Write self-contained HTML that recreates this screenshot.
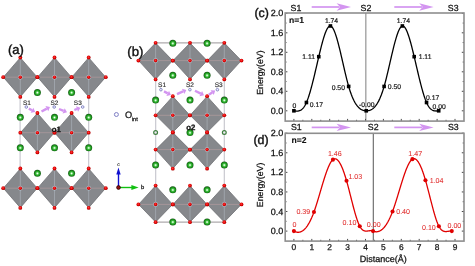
<!DOCTYPE html><html><head><meta charset="utf-8"><style>html,body{margin:0;padding:0;background:#fff;}svg{display:block;will-change:transform;} text{font-family:"Liberation Sans",sans-serif;-webkit-font-smoothing:antialiased;text-rendering:geometricPrecision;}</style></head><body>
<svg width="475" height="266" viewBox="0 0 475 266">
<defs><radialGradient id="gg" cx="0.5" cy="0.53" r="0.52"><stop offset="0" stop-color="#ffffff"/><stop offset="0.18" stop-color="#b4f0b4"/><stop offset="0.42" stop-color="#3cbc3c"/><stop offset="0.75" stop-color="#178a17"/><stop offset="1" stop-color="#1c561c"/></radialGradient><radialGradient id="gr" cx="0.45" cy="0.42" r="0.6"><stop offset="0" stop-color="#ff4040"/><stop offset="0.6" stop-color="#e00000"/><stop offset="1" stop-color="#a80000"/></radialGradient></defs>
<rect width="475" height="266" fill="#fff"/>
<line x1="20.1" y1="96.9" x2="20.1" y2="168.5" stroke="#c4c4cc" stroke-width="1.1"/>
<line x1="88.7" y1="96.9" x2="88.7" y2="168.5" stroke="#c4c4cc" stroke-width="1.1"/>
<polygon points="20.30,57.70 37.20,77.20 20.30,96.70 3.40,77.20" fill="#86888c" stroke="#6e7074" stroke-width="0.8" stroke-linejoin="round"/>
<line x1="20.30" y1="57.50" x2="20.30" y2="96.90" stroke="#a6acb4" stroke-width="0.75"/>
<line x1="3.20" y1="77.20" x2="37.40" y2="77.20" stroke="#ae9a9c" stroke-width="0.75"/>
<polygon points="54.50,57.70 71.40,77.20 54.50,96.70 37.60,77.20" fill="#86888c" stroke="#6e7074" stroke-width="0.8" stroke-linejoin="round"/>
<line x1="54.50" y1="57.50" x2="54.50" y2="96.90" stroke="#a6acb4" stroke-width="0.75"/>
<line x1="37.40" y1="77.20" x2="71.60" y2="77.20" stroke="#ae9a9c" stroke-width="0.75"/>
<polygon points="88.70,57.70 105.60,77.20 88.70,96.70 71.80,77.20" fill="#86888c" stroke="#6e7074" stroke-width="0.8" stroke-linejoin="round"/>
<line x1="88.70" y1="57.50" x2="88.70" y2="96.90" stroke="#a6acb4" stroke-width="0.75"/>
<line x1="71.60" y1="77.20" x2="105.80" y2="77.20" stroke="#ae9a9c" stroke-width="0.75"/>
<polygon points="37.40,113.20 54.30,132.70 37.40,152.20 20.50,132.70" fill="#86888c" stroke="#6e7074" stroke-width="0.8" stroke-linejoin="round"/>
<line x1="37.40" y1="113.00" x2="37.40" y2="152.40" stroke="#a6acb4" stroke-width="0.75"/>
<line x1="20.30" y1="132.70" x2="54.50" y2="132.70" stroke="#ae9a9c" stroke-width="0.75"/>
<polygon points="71.60,113.20 88.50,132.70 71.60,152.20 54.70,132.70" fill="#86888c" stroke="#6e7074" stroke-width="0.8" stroke-linejoin="round"/>
<line x1="71.60" y1="113.00" x2="71.60" y2="152.40" stroke="#a6acb4" stroke-width="0.75"/>
<line x1="54.50" y1="132.70" x2="88.70" y2="132.70" stroke="#ae9a9c" stroke-width="0.75"/>
<polygon points="20.30,168.70 37.20,188.20 20.30,207.70 3.40,188.20" fill="#86888c" stroke="#6e7074" stroke-width="0.8" stroke-linejoin="round"/>
<line x1="20.30" y1="168.50" x2="20.30" y2="207.90" stroke="#a6acb4" stroke-width="0.75"/>
<line x1="3.20" y1="188.20" x2="37.40" y2="188.20" stroke="#ae9a9c" stroke-width="0.75"/>
<polygon points="54.50,168.70 71.40,188.20 54.50,207.70 37.60,188.20" fill="#86888c" stroke="#6e7074" stroke-width="0.8" stroke-linejoin="round"/>
<line x1="54.50" y1="168.50" x2="54.50" y2="207.90" stroke="#a6acb4" stroke-width="0.75"/>
<line x1="37.40" y1="188.20" x2="71.60" y2="188.20" stroke="#ae9a9c" stroke-width="0.75"/>
<polygon points="88.70,168.70 105.60,188.20 88.70,207.70 71.80,188.20" fill="#86888c" stroke="#6e7074" stroke-width="0.8" stroke-linejoin="round"/>
<line x1="88.70" y1="168.50" x2="88.70" y2="207.90" stroke="#a6acb4" stroke-width="0.75"/>
<line x1="71.60" y1="188.20" x2="105.80" y2="188.20" stroke="#ae9a9c" stroke-width="0.75"/>
<circle cx="20.30" cy="57.50" r="1.9" fill="url(#gr)"/>
<circle cx="20.30" cy="96.90" r="1.9" fill="url(#gr)"/>
<circle cx="3.20" cy="77.20" r="1.9" fill="url(#gr)"/>
<circle cx="37.40" cy="77.20" r="1.9" fill="url(#gr)"/>
<circle cx="20.30" cy="77.20" r="2.3" fill="#b4ccd8"/>
<circle cx="20.30" cy="77.20" r="1.8" fill="url(#gr)"/>
<circle cx="54.50" cy="57.50" r="1.9" fill="url(#gr)"/>
<circle cx="54.50" cy="96.90" r="1.9" fill="url(#gr)"/>
<circle cx="37.40" cy="77.20" r="1.9" fill="url(#gr)"/>
<circle cx="71.60" cy="77.20" r="1.9" fill="url(#gr)"/>
<circle cx="54.50" cy="77.20" r="2.3" fill="#b4ccd8"/>
<circle cx="54.50" cy="77.20" r="1.8" fill="url(#gr)"/>
<circle cx="88.70" cy="57.50" r="1.9" fill="url(#gr)"/>
<circle cx="88.70" cy="96.90" r="1.9" fill="url(#gr)"/>
<circle cx="71.60" cy="77.20" r="1.9" fill="url(#gr)"/>
<circle cx="105.80" cy="77.20" r="1.9" fill="url(#gr)"/>
<circle cx="88.70" cy="77.20" r="2.3" fill="#b4ccd8"/>
<circle cx="88.70" cy="77.20" r="1.8" fill="url(#gr)"/>
<circle cx="37.40" cy="113.00" r="1.9" fill="url(#gr)"/>
<circle cx="37.40" cy="152.40" r="1.9" fill="url(#gr)"/>
<circle cx="20.30" cy="132.70" r="1.9" fill="url(#gr)"/>
<circle cx="54.50" cy="132.70" r="1.9" fill="url(#gr)"/>
<circle cx="37.40" cy="132.70" r="2.3" fill="#b4ccd8"/>
<circle cx="37.40" cy="132.70" r="1.8" fill="url(#gr)"/>
<circle cx="71.60" cy="113.00" r="1.9" fill="url(#gr)"/>
<circle cx="71.60" cy="152.40" r="1.9" fill="url(#gr)"/>
<circle cx="54.50" cy="132.70" r="1.9" fill="url(#gr)"/>
<circle cx="88.70" cy="132.70" r="1.9" fill="url(#gr)"/>
<circle cx="71.60" cy="132.70" r="2.3" fill="#b4ccd8"/>
<circle cx="71.60" cy="132.70" r="1.8" fill="url(#gr)"/>
<circle cx="20.30" cy="168.50" r="1.9" fill="url(#gr)"/>
<circle cx="20.30" cy="207.90" r="1.9" fill="url(#gr)"/>
<circle cx="3.20" cy="188.20" r="1.9" fill="url(#gr)"/>
<circle cx="37.40" cy="188.20" r="1.9" fill="url(#gr)"/>
<circle cx="20.30" cy="188.20" r="2.3" fill="#b4ccd8"/>
<circle cx="20.30" cy="188.20" r="1.8" fill="url(#gr)"/>
<circle cx="54.50" cy="168.50" r="1.9" fill="url(#gr)"/>
<circle cx="54.50" cy="207.90" r="1.9" fill="url(#gr)"/>
<circle cx="37.40" cy="188.20" r="1.9" fill="url(#gr)"/>
<circle cx="71.60" cy="188.20" r="1.9" fill="url(#gr)"/>
<circle cx="54.50" cy="188.20" r="2.3" fill="#b4ccd8"/>
<circle cx="54.50" cy="188.20" r="1.8" fill="url(#gr)"/>
<circle cx="88.70" cy="168.50" r="1.9" fill="url(#gr)"/>
<circle cx="88.70" cy="207.90" r="1.9" fill="url(#gr)"/>
<circle cx="71.60" cy="188.20" r="1.9" fill="url(#gr)"/>
<circle cx="105.80" cy="188.20" r="1.9" fill="url(#gr)"/>
<circle cx="88.70" cy="188.20" r="2.3" fill="#b4ccd8"/>
<circle cx="88.70" cy="188.20" r="1.8" fill="url(#gr)"/>
<circle cx="37.40" cy="92.40" r="3.5" fill="url(#gg)"/>
<circle cx="71.60" cy="92.40" r="3.5" fill="url(#gg)"/>
<circle cx="20.30" cy="117.30" r="3.5" fill="url(#gg)"/>
<circle cx="54.50" cy="117.30" r="3.5" fill="url(#gg)"/>
<circle cx="88.70" cy="117.30" r="3.5" fill="url(#gg)"/>
<circle cx="20.30" cy="147.70" r="3.5" fill="url(#gg)"/>
<circle cx="54.50" cy="147.70" r="3.5" fill="url(#gg)"/>
<circle cx="88.70" cy="147.70" r="3.5" fill="url(#gg)"/>
<circle cx="37.40" cy="173.20" r="3.5" fill="url(#gg)"/>
<circle cx="71.60" cy="173.20" r="3.5" fill="url(#gg)"/>
<circle cx="26.30" cy="107.00" r="1.3" fill="#f0f0ff" stroke="#7e80c0" stroke-width="0.9"/>
<text x="22.90" y="104.90" font-size="6.5" fill="#2a2a2a" stroke="#2a2a2a" stroke-width="0.12" font-weight="normal" text-anchor="start" >S1</text>
<circle cx="54.20" cy="107.00" r="1.3" fill="#f0f0ff" stroke="#7e80c0" stroke-width="0.9"/>
<text x="50.50" y="104.90" font-size="6.5" fill="#2a2a2a" stroke="#2a2a2a" stroke-width="0.12" font-weight="normal" text-anchor="start" >S2</text>
<circle cx="82.70" cy="107.00" r="1.3" fill="#f0f0ff" stroke="#7e80c0" stroke-width="0.9"/>
<text x="73.80" y="104.90" font-size="6.5" fill="#2a2a2a" stroke="#2a2a2a" stroke-width="0.12" font-weight="normal" text-anchor="start" >S3</text>
<line x1="28.80" y1="108.60" x2="32.00" y2="110.25" stroke="#d394f0" stroke-width="2.4"/>
<polygon points="35.20,111.90 30.67,112.83 33.33,107.67" fill="#d394f0"/>
<line x1="41.50" y1="111.50" x2="46.83" y2="108.61" stroke="#d394f0" stroke-width="2.4"/>
<polygon points="50.00,106.90 48.21,111.16 45.45,106.06" fill="#d394f0"/>
<line x1="59.00" y1="109.00" x2="63.66" y2="110.86" stroke="#d394f0" stroke-width="2.4"/>
<polygon points="67.00,112.20 62.58,113.56 64.73,108.17" fill="#d394f0"/>
<line x1="74.30" y1="110.00" x2="77.03" y2="108.97" stroke="#d394f0" stroke-width="2.4"/>
<polygon points="80.40,107.70 78.05,111.68 76.01,106.26" fill="#d394f0"/>
<text x="51.80" y="131.90" font-size="7.8" fill="#111" stroke="#111" stroke-width="0.25" font-weight="bold" text-anchor="start" >o1</text>
<text x="8.00" y="53.80" font-size="13.0" fill="#111" stroke="#111" stroke-width="0.4" font-weight="normal" text-anchor="start" >(a)</text>
<line x1="155.7" y1="42.9" x2="155.7" y2="222.2" stroke="#c4c4cc" stroke-width="1.1"/>
<line x1="224.3" y1="42.9" x2="224.3" y2="222.2" stroke="#c4c4cc" stroke-width="1.1"/>
<line x1="155.6" y1="42.9" x2="224.3" y2="42.9" stroke="#aeaaac" stroke-width="1.1"/>
<line x1="155.6" y1="222.1" x2="224.3" y2="222.1" stroke="#aeaaac" stroke-width="1.1"/>
<polygon points="155.60,43.00 172.60,60.60 155.60,79.20 138.60,60.60" fill="#86888c" stroke="#6e7074" stroke-width="0.8" stroke-linejoin="round"/>
<line x1="155.60" y1="42.80" x2="155.60" y2="79.40" stroke="#a6acb4" stroke-width="0.75"/>
<line x1="138.40" y1="60.60" x2="172.80" y2="60.60" stroke="#ae9a9c" stroke-width="0.75"/>
<polygon points="190.00,43.00 207.00,60.60 190.00,79.20 173.00,60.60" fill="#86888c" stroke="#6e7074" stroke-width="0.8" stroke-linejoin="round"/>
<line x1="190.00" y1="42.80" x2="190.00" y2="79.40" stroke="#a6acb4" stroke-width="0.75"/>
<line x1="172.80" y1="60.60" x2="207.20" y2="60.60" stroke="#ae9a9c" stroke-width="0.75"/>
<polygon points="224.30,43.00 241.30,60.60 224.30,79.20 207.30,60.60" fill="#86888c" stroke="#6e7074" stroke-width="0.8" stroke-linejoin="round"/>
<line x1="224.30" y1="42.80" x2="224.30" y2="79.40" stroke="#a6acb4" stroke-width="0.75"/>
<line x1="207.10" y1="60.60" x2="241.50" y2="60.60" stroke="#ae9a9c" stroke-width="0.75"/>
<polygon points="172.80,96.40 189.80,115.30 172.80,132.20 155.80,115.30" fill="#86888c" stroke="#6e7074" stroke-width="0.8" stroke-linejoin="round"/>
<line x1="172.80" y1="96.20" x2="172.80" y2="132.40" stroke="#a6acb4" stroke-width="0.75"/>
<line x1="155.60" y1="115.30" x2="190.00" y2="115.30" stroke="#ae9a9c" stroke-width="0.75"/>
<polygon points="207.10,96.40 224.10,115.30 207.10,132.20 190.10,115.30" fill="#86888c" stroke="#6e7074" stroke-width="0.8" stroke-linejoin="round"/>
<line x1="207.10" y1="96.20" x2="207.10" y2="132.40" stroke="#a6acb4" stroke-width="0.75"/>
<line x1="189.90" y1="115.30" x2="224.30" y2="115.30" stroke="#ae9a9c" stroke-width="0.75"/>
<polygon points="172.80,132.60 189.80,149.60 172.80,168.50 155.80,149.60" fill="#86888c" stroke="#6e7074" stroke-width="0.8" stroke-linejoin="round"/>
<line x1="172.80" y1="132.40" x2="172.80" y2="168.70" stroke="#a6acb4" stroke-width="0.75"/>
<line x1="155.60" y1="149.60" x2="190.00" y2="149.60" stroke="#ae9a9c" stroke-width="0.75"/>
<polygon points="207.10,132.60 224.10,149.60 207.10,168.50 190.10,149.60" fill="#86888c" stroke="#6e7074" stroke-width="0.8" stroke-linejoin="round"/>
<line x1="207.10" y1="132.40" x2="207.10" y2="168.70" stroke="#a6acb4" stroke-width="0.75"/>
<line x1="189.90" y1="149.60" x2="224.30" y2="149.60" stroke="#ae9a9c" stroke-width="0.75"/>
<polygon points="155.60,185.80 172.60,204.40 155.60,222.00 138.60,204.40" fill="#86888c" stroke="#6e7074" stroke-width="0.8" stroke-linejoin="round"/>
<line x1="155.60" y1="185.60" x2="155.60" y2="222.20" stroke="#a6acb4" stroke-width="0.75"/>
<line x1="138.40" y1="204.40" x2="172.80" y2="204.40" stroke="#ae9a9c" stroke-width="0.75"/>
<polygon points="190.00,185.80 207.00,204.40 190.00,222.00 173.00,204.40" fill="#86888c" stroke="#6e7074" stroke-width="0.8" stroke-linejoin="round"/>
<line x1="190.00" y1="185.60" x2="190.00" y2="222.20" stroke="#a6acb4" stroke-width="0.75"/>
<line x1="172.80" y1="204.40" x2="207.20" y2="204.40" stroke="#ae9a9c" stroke-width="0.75"/>
<polygon points="224.30,185.80 241.30,204.40 224.30,222.00 207.30,204.40" fill="#86888c" stroke="#6e7074" stroke-width="0.8" stroke-linejoin="round"/>
<line x1="224.30" y1="185.60" x2="224.30" y2="222.20" stroke="#a6acb4" stroke-width="0.75"/>
<line x1="207.10" y1="204.40" x2="241.50" y2="204.40" stroke="#ae9a9c" stroke-width="0.75"/>
<circle cx="155.60" cy="42.80" r="1.9" fill="url(#gr)"/>
<circle cx="155.60" cy="79.40" r="1.9" fill="url(#gr)"/>
<circle cx="138.40" cy="60.60" r="1.9" fill="url(#gr)"/>
<circle cx="172.80" cy="60.60" r="1.9" fill="url(#gr)"/>
<circle cx="155.60" cy="60.60" r="2.3" fill="#b4ccd8"/>
<circle cx="155.60" cy="60.60" r="1.8" fill="url(#gr)"/>
<circle cx="190.00" cy="42.80" r="1.9" fill="url(#gr)"/>
<circle cx="190.00" cy="79.40" r="1.9" fill="url(#gr)"/>
<circle cx="172.80" cy="60.60" r="1.9" fill="url(#gr)"/>
<circle cx="207.20" cy="60.60" r="1.9" fill="url(#gr)"/>
<circle cx="190.00" cy="60.60" r="2.3" fill="#b4ccd8"/>
<circle cx="190.00" cy="60.60" r="1.8" fill="url(#gr)"/>
<circle cx="224.30" cy="42.80" r="1.9" fill="url(#gr)"/>
<circle cx="224.30" cy="79.40" r="1.9" fill="url(#gr)"/>
<circle cx="207.10" cy="60.60" r="1.9" fill="url(#gr)"/>
<circle cx="241.50" cy="60.60" r="1.9" fill="url(#gr)"/>
<circle cx="224.30" cy="60.60" r="2.3" fill="#b4ccd8"/>
<circle cx="224.30" cy="60.60" r="1.8" fill="url(#gr)"/>
<circle cx="172.80" cy="96.20" r="1.9" fill="url(#gr)"/>
<circle cx="172.80" cy="132.40" r="1.9" fill="url(#gr)"/>
<circle cx="155.60" cy="115.30" r="1.9" fill="url(#gr)"/>
<circle cx="190.00" cy="115.30" r="1.9" fill="url(#gr)"/>
<circle cx="172.80" cy="115.30" r="2.3" fill="#b4ccd8"/>
<circle cx="172.80" cy="115.30" r="1.8" fill="url(#gr)"/>
<circle cx="207.10" cy="96.20" r="1.9" fill="url(#gr)"/>
<circle cx="207.10" cy="132.40" r="1.9" fill="url(#gr)"/>
<circle cx="189.90" cy="115.30" r="1.9" fill="url(#gr)"/>
<circle cx="224.30" cy="115.30" r="1.9" fill="url(#gr)"/>
<circle cx="207.10" cy="115.30" r="2.3" fill="#b4ccd8"/>
<circle cx="207.10" cy="115.30" r="1.8" fill="url(#gr)"/>
<circle cx="172.80" cy="132.40" r="1.9" fill="url(#gr)"/>
<circle cx="172.80" cy="168.70" r="1.9" fill="url(#gr)"/>
<circle cx="155.60" cy="149.60" r="1.9" fill="url(#gr)"/>
<circle cx="190.00" cy="149.60" r="1.9" fill="url(#gr)"/>
<circle cx="172.80" cy="149.60" r="2.3" fill="#b4ccd8"/>
<circle cx="172.80" cy="149.60" r="1.8" fill="url(#gr)"/>
<circle cx="207.10" cy="132.40" r="1.9" fill="url(#gr)"/>
<circle cx="207.10" cy="168.70" r="1.9" fill="url(#gr)"/>
<circle cx="189.90" cy="149.60" r="1.9" fill="url(#gr)"/>
<circle cx="224.30" cy="149.60" r="1.9" fill="url(#gr)"/>
<circle cx="207.10" cy="149.60" r="2.3" fill="#b4ccd8"/>
<circle cx="207.10" cy="149.60" r="1.8" fill="url(#gr)"/>
<circle cx="155.60" cy="185.60" r="1.9" fill="url(#gr)"/>
<circle cx="155.60" cy="222.20" r="1.9" fill="url(#gr)"/>
<circle cx="138.40" cy="204.40" r="1.9" fill="url(#gr)"/>
<circle cx="172.80" cy="204.40" r="1.9" fill="url(#gr)"/>
<circle cx="155.60" cy="204.40" r="2.3" fill="#b4ccd8"/>
<circle cx="155.60" cy="204.40" r="1.8" fill="url(#gr)"/>
<circle cx="190.00" cy="185.60" r="1.9" fill="url(#gr)"/>
<circle cx="190.00" cy="222.20" r="1.9" fill="url(#gr)"/>
<circle cx="172.80" cy="204.40" r="1.9" fill="url(#gr)"/>
<circle cx="207.20" cy="204.40" r="1.9" fill="url(#gr)"/>
<circle cx="190.00" cy="204.40" r="2.3" fill="#b4ccd8"/>
<circle cx="190.00" cy="204.40" r="1.8" fill="url(#gr)"/>
<circle cx="224.30" cy="185.60" r="1.9" fill="url(#gr)"/>
<circle cx="224.30" cy="222.20" r="1.9" fill="url(#gr)"/>
<circle cx="207.10" cy="204.40" r="1.9" fill="url(#gr)"/>
<circle cx="241.50" cy="204.40" r="1.9" fill="url(#gr)"/>
<circle cx="224.30" cy="204.40" r="2.3" fill="#b4ccd8"/>
<circle cx="224.30" cy="204.40" r="1.8" fill="url(#gr)"/>
<circle cx="172.80" cy="43.20" r="3.5" fill="url(#gg)"/>
<circle cx="207.10" cy="43.20" r="3.5" fill="url(#gg)"/>
<circle cx="172.80" cy="75.20" r="3.5" fill="url(#gg)"/>
<circle cx="207.10" cy="75.20" r="3.5" fill="url(#gg)"/>
<circle cx="155.60" cy="100.10" r="3.5" fill="url(#gg)"/>
<circle cx="190.00" cy="100.10" r="3.5" fill="url(#gg)"/>
<circle cx="224.30" cy="100.10" r="3.5" fill="url(#gg)"/>
<circle cx="155.60" cy="132.50" r="1.9" fill="#eeeaf4" stroke="#3f7f3f" stroke-width="1.2"/>
<circle cx="190.00" cy="132.50" r="3.5" fill="url(#gg)"/>
<circle cx="224.30" cy="132.50" r="1.9" fill="#eeeaf4" stroke="#3f7f3f" stroke-width="1.2"/>
<circle cx="155.60" cy="164.90" r="3.5" fill="url(#gg)"/>
<circle cx="190.00" cy="164.90" r="3.5" fill="url(#gg)"/>
<circle cx="224.30" cy="164.90" r="3.5" fill="url(#gg)"/>
<circle cx="172.80" cy="189.80" r="3.5" fill="url(#gg)"/>
<circle cx="207.10" cy="189.80" r="3.5" fill="url(#gg)"/>
<circle cx="172.80" cy="221.90" r="3.5" fill="url(#gg)"/>
<circle cx="207.10" cy="221.90" r="3.5" fill="url(#gg)"/>
<circle cx="160.90" cy="89.70" r="1.3" fill="#f0f0ff" stroke="#7e80c0" stroke-width="0.9"/>
<text x="158.00" y="87.30" font-size="6.6" fill="#333" stroke="#333" stroke-width="0.15" font-weight="normal" text-anchor="start" >S1</text>
<circle cx="189.90" cy="89.70" r="1.3" fill="#f0f0ff" stroke="#7e80c0" stroke-width="0.9"/>
<text x="185.90" y="87.30" font-size="6.6" fill="#333" stroke="#333" stroke-width="0.15" font-weight="normal" text-anchor="start" >S2</text>
<circle cx="217.40" cy="89.70" r="1.3" fill="#f0f0ff" stroke="#7e80c0" stroke-width="0.9"/>
<text x="214.70" y="87.30" font-size="6.6" fill="#333" stroke="#333" stroke-width="0.15" font-weight="normal" text-anchor="start" >S3</text>
<line x1="164.00" y1="91.40" x2="167.71" y2="93.33" stroke="#d394f0" stroke-width="2.4"/>
<polygon points="170.90,95.00 166.37,95.91 169.05,90.76" fill="#d394f0"/>
<line x1="177.00" y1="94.20" x2="183.13" y2="91.40" stroke="#d394f0" stroke-width="2.4"/>
<polygon points="186.40,89.90 184.33,94.03 181.92,88.76" fill="#d394f0"/>
<line x1="195.00" y1="90.80" x2="200.78" y2="93.69" stroke="#d394f0" stroke-width="2.4"/>
<polygon points="204.00,95.30 199.48,96.28 202.08,91.10" fill="#d394f0"/>
<line x1="208.80" y1="94.80" x2="212.19" y2="92.58" stroke="#d394f0" stroke-width="2.4"/>
<polygon points="215.20,90.60 213.78,95.00 210.60,90.15" fill="#d394f0"/>
<text x="186.30" y="130.00" font-size="7.8" fill="#111" stroke="#111" stroke-width="0.25" font-weight="bold" text-anchor="start" >o2</text>
<text x="127.30" y="55.70" font-size="13.2" fill="#111" stroke="#111" stroke-width="0.4" font-weight="normal" text-anchor="start" >(b)</text>
<circle cx="116.4" cy="114.5" r="2.0" fill="#fafaff" stroke="#8080c4" stroke-width="1.0"/>
<text x="125.00" y="117.70" font-size="9.2" fill="#111" stroke="#111" stroke-width="0.25" font-weight="normal" text-anchor="start" >O</text>
<text x="131.80" y="121.30" font-size="5.6" fill="#111" stroke="#111" stroke-width="0.25" font-weight="normal" text-anchor="start" >int</text>
<line x1="118.5" y1="187.5" x2="118.5" y2="173.5" stroke="#1010d0" stroke-width="1.4"/>
<polygon points="118.5,167.4 116.3,174.6 120.7,174.6" fill="#1010d0"/>
<line x1="118.5" y1="187.5" x2="132.5" y2="187.5" stroke="#10c010" stroke-width="1.4"/>
<polygon points="138.6,187.5 131.4,185.0 131.4,190.0" fill="#10c010"/>
<circle cx="118.5" cy="187.5" r="1.9" fill="#901010" stroke="#200000" stroke-width="0.7"/>
<text x="117.20" y="165.50" font-size="5.0" fill="#222" stroke="#222" stroke-width="0.12" font-weight="normal" text-anchor="start" >c</text>
<text x="140.90" y="189.40" font-size="5.8" fill="#111" stroke="#111" stroke-width="0.25" font-weight="normal" text-anchor="start" >b</text>
<line x1="365.80" y1="13.00" x2="365.80" y2="121.10" stroke="#a4a4a4" stroke-width="1.4"/>
<path d="M285.20,110.80h2.2M464.00,110.80h-2.2M285.20,101.05h1.3M464.00,101.05h-1.3M285.20,91.30h2.2M464.00,91.30h-2.2M285.20,81.55h1.3M464.00,81.55h-1.3M285.20,71.80h2.2M464.00,71.80h-2.2M285.20,62.05h1.3M464.00,62.05h-1.3M285.20,52.30h2.2M464.00,52.30h-2.2M285.20,42.55h1.3M464.00,42.55h-1.3M285.20,32.80h2.2M464.00,32.80h-2.2M285.20,23.05h1.3M464.00,23.05h-1.3M285.20,13.30h2.2M464.00,13.30h-2.2M293.90,121.10v-2.2M302.85,121.10v-1.3M311.80,121.10v-2.2M320.75,121.10v-1.3M329.70,121.10v-2.2M338.65,121.10v-1.3M347.60,121.10v-2.2M356.55,121.10v-1.3M365.50,121.10v-2.2M374.45,121.10v-1.3M383.40,121.10v-2.2M392.35,121.10v-1.3M401.30,121.10v-2.2M410.25,121.10v-1.3M419.20,121.10v-2.2M428.15,121.10v-1.3M437.10,121.10v-2.2M446.05,121.10v-1.3M455.00,121.10v-2.2" stroke="#4a4a4a" stroke-width="1.0" fill="none"/>
<rect x="285.20" y="13.00" width="178.80" height="108.10" fill="none" stroke="#8e8e8e" stroke-width="1.6"/>
<text x="283.30" y="113.90" font-size="9.0" fill="#111" stroke="#111" stroke-width="0.25" font-weight="normal" text-anchor="end" >0.0</text>
<text x="283.30" y="94.40" font-size="9.0" fill="#111" stroke="#111" stroke-width="0.25" font-weight="normal" text-anchor="end" >0.4</text>
<text x="283.30" y="74.90" font-size="9.0" fill="#111" stroke="#111" stroke-width="0.25" font-weight="normal" text-anchor="end" >0.8</text>
<text x="283.30" y="55.40" font-size="9.0" fill="#111" stroke="#111" stroke-width="0.25" font-weight="normal" text-anchor="end" >1.2</text>
<text x="283.30" y="35.90" font-size="9.0" fill="#111" stroke="#111" stroke-width="0.25" font-weight="normal" text-anchor="end" >1.6</text>
<text x="283.30" y="16.40" font-size="9.0" fill="#111" stroke="#111" stroke-width="0.25" font-weight="normal" text-anchor="end" >2.0</text>
<path d="M293.90,110.80 L294.26,110.85 L294.63,110.90 L294.99,110.95 L295.35,110.99 L295.71,111.03 L296.08,111.06 L296.44,111.08 L296.80,111.09 L297.17,111.08 L297.53,111.07 L297.89,111.04 L298.26,110.99 L298.62,110.93 L298.98,110.85 L299.34,110.74 L299.71,110.62 L300.07,110.47 L300.43,110.30 L300.80,110.10 L301.16,109.87 L301.52,109.61 L301.88,109.33 L302.25,109.01 L302.61,108.65 L302.97,108.26 L303.34,107.84 L303.70,107.37 L304.06,106.87 L304.43,106.33 L304.79,105.74 L305.15,105.11 L305.51,104.43 L305.88,103.71 L306.24,102.94 L306.60,102.12 L306.97,101.24 L307.33,100.32 L307.69,99.36 L308.05,98.35 L308.42,97.30 L308.78,96.20 L309.14,95.07 L309.51,93.90 L309.87,92.69 L310.23,91.45 L310.60,90.18 L310.96,88.87 L311.32,87.54 L311.68,86.18 L312.05,84.80 L312.41,83.39 L312.77,81.96 L313.14,80.51 L313.50,79.04 L313.86,77.55 L314.22,76.05 L314.59,74.54 L314.95,73.02 L315.31,71.48 L315.68,69.94 L316.04,68.39 L316.40,66.84 L316.76,65.29 L317.13,63.73 L317.49,62.18 L317.85,60.63 L318.22,59.08 L318.58,57.54 L318.94,56.01 L319.31,54.48 L319.67,52.97 L320.03,51.48 L320.39,50.00 L320.76,48.54 L321.12,47.11 L321.48,45.70 L321.85,44.32 L322.21,42.97 L322.57,41.65 L322.93,40.36 L323.30,39.12 L323.66,37.91 L324.02,36.75 L324.39,35.63 L324.75,34.56 L325.11,33.54 L325.48,32.57 L325.84,31.66 L326.20,30.81 L326.56,30.02 L326.93,29.29 L327.29,28.62 L327.65,28.03 L328.02,27.50 L328.38,27.05 L328.74,26.67 L329.10,26.37 L329.47,26.15 L329.83,26.01 L330.19,25.96 L330.56,26.00 L330.92,26.13 L331.28,26.34 L331.65,26.63 L332.01,27.01 L332.37,27.46 L332.73,27.99 L333.10,28.60 L333.46,29.27 L333.82,30.01 L334.19,30.82 L334.55,31.69 L334.91,32.61 L335.27,33.60 L335.64,34.64 L336.00,35.73 L336.36,36.87 L336.73,38.06 L337.09,39.30 L337.45,40.57 L337.82,41.89 L338.18,43.24 L338.54,44.62 L338.90,46.04 L339.27,47.48 L339.63,48.95 L339.99,50.44 L340.36,51.96 L340.72,53.49 L341.08,55.04 L341.44,56.60 L341.81,58.17 L342.17,59.75 L342.53,61.34 L342.90,62.92 L343.26,64.51 L343.62,66.09 L343.99,67.67 L344.35,69.24 L344.71,70.80 L345.07,72.35 L345.44,73.88 L345.80,75.39 L346.16,76.89 L346.53,78.36 L346.89,79.80 L347.25,81.21 L347.61,82.59 L347.98,83.94 L348.34,85.25 L348.70,86.53 L349.07,87.76 L349.43,88.95 L349.79,90.10 L350.15,91.21 L350.52,92.28 L350.88,93.31 L351.24,94.31 L351.61,95.27 L351.97,96.19 L352.33,97.08 L352.70,97.93 L353.06,98.75 L353.42,99.53 L353.78,100.28 L354.15,101.00 L354.51,101.68 L354.87,102.34 L355.24,102.96 L355.60,103.56 L355.96,104.12 L356.32,104.66 L356.69,105.17 L357.05,105.65 L357.41,106.11 L357.78,106.54 L358.14,106.94 L358.50,107.33 L358.87,107.68 L359.23,108.01 L359.59,108.33 L359.95,108.61 L360.32,108.88 L360.68,109.13 L361.04,109.35 L361.41,109.56 L361.77,109.75 L362.13,109.92 L362.49,110.07 L362.86,110.21 L363.22,110.33 L363.58,110.44 L363.95,110.53 L364.31,110.60 L364.67,110.67 L365.04,110.72 L365.40,110.76 L365.76,110.78 L366.12,110.80 L366.49,110.80 L366.85,110.80 L367.21,110.78 L367.58,110.75 L367.94,110.71 L368.30,110.66 L368.66,110.59 L369.03,110.51 L369.39,110.42 L369.75,110.31 L370.12,110.18 L370.48,110.03 L370.84,109.87 L371.21,109.69 L371.57,109.49 L371.93,109.28 L372.29,109.04 L372.66,108.78 L373.02,108.50 L373.38,108.20 L373.75,107.88 L374.11,107.53 L374.47,107.16 L374.83,106.76 L375.20,106.34 L375.56,105.90 L375.92,105.43 L376.29,104.93 L376.65,104.40 L377.01,103.85 L377.38,103.27 L377.74,102.65 L378.10,102.01 L378.46,101.34 L378.83,100.63 L379.19,99.90 L379.55,99.13 L379.92,98.33 L380.28,97.49 L380.64,96.62 L381.00,95.72 L381.37,94.78 L381.73,93.80 L382.09,92.78 L382.46,91.73 L382.82,90.64 L383.18,89.51 L383.54,88.34 L383.91,87.14 L384.27,85.89 L384.63,84.60 L385.00,83.27 L385.36,81.91 L385.72,80.52 L386.09,79.09 L386.45,77.64 L386.81,76.17 L387.17,74.67 L387.54,73.15 L387.90,71.62 L388.26,70.07 L388.63,68.51 L388.99,66.94 L389.35,65.37 L389.71,63.79 L390.08,62.21 L390.44,60.63 L390.80,59.05 L391.17,57.48 L391.53,55.92 L391.89,54.37 L392.26,52.84 L392.62,51.32 L392.98,49.82 L393.34,48.34 L393.71,46.89 L394.07,45.46 L394.43,44.06 L394.80,42.70 L395.16,41.37 L395.52,40.07 L395.88,38.82 L396.25,37.61 L396.61,36.44 L396.97,35.32 L397.34,34.25 L397.70,33.24 L398.06,32.27 L398.43,31.37 L398.79,30.53 L399.15,29.75 L399.51,29.03 L399.88,28.38 L400.24,27.80 L400.60,27.30 L400.97,26.87 L401.33,26.52 L401.69,26.25 L402.05,26.07 L402.42,25.97 L402.78,25.96 L403.14,26.03 L403.51,26.18 L403.87,26.42 L404.23,26.74 L404.60,27.13 L404.96,27.59 L405.32,28.13 L405.68,28.73 L406.05,29.40 L406.41,30.14 L406.77,30.93 L407.14,31.79 L407.50,32.70 L407.86,33.67 L408.22,34.68 L408.59,35.75 L408.95,36.86 L409.31,38.02 L409.68,39.22 L410.04,40.46 L410.40,41.74 L410.77,43.05 L411.13,44.40 L411.49,45.77 L411.85,47.17 L412.22,48.60 L412.58,50.05 L412.94,51.52 L413.31,53.01 L413.67,54.51 L414.03,56.03 L414.39,57.56 L414.76,59.09 L415.12,60.64 L415.48,62.19 L415.85,63.74 L416.21,65.29 L416.57,66.84 L416.93,68.40 L417.30,69.94 L417.66,71.48 L418.02,73.02 L418.39,74.54 L418.75,76.06 L419.11,77.56 L419.48,79.04 L419.84,80.51 L420.20,81.97 L420.56,83.40 L420.93,84.81 L421.29,86.19 L421.65,87.56 L422.02,88.89 L422.38,90.19 L422.74,91.47 L423.10,92.71 L423.47,93.92 L423.83,95.09 L424.19,96.22 L424.56,97.32 L424.92,98.37 L425.28,99.38 L425.65,100.34 L426.01,101.26 L426.37,102.13 L426.73,102.95 L427.10,103.71 L427.46,104.43 L427.82,105.10 L428.19,105.73 L428.55,106.31 L428.91,106.85 L429.27,107.35 L429.64,107.80 L430.00,108.22 L430.36,108.61 L430.73,108.95 L431.09,109.27 L431.45,109.55 L431.82,109.80 L432.18,110.02 L432.54,110.22 L432.90,110.39 L433.27,110.53 L433.63,110.65 L433.99,110.75 L434.36,110.83 L434.72,110.89 L435.08,110.94 L435.44,110.97 L435.81,110.98 L436.17,110.99 L436.53,110.98 L436.90,110.97 L437.26,110.94 L437.62,110.91 L437.99,110.88 L438.35,110.84 L438.71,110.80" fill="none" stroke="#000" stroke-width="1.3" stroke-linejoin="round"/>
<rect x="292.10" y="109.00" width="3.6" height="3.6" fill="#000"/>
<rect x="304.63" y="100.71" width="3.6" height="3.6" fill="#000"/>
<rect x="316.98" y="54.89" width="3.6" height="3.6" fill="#000"/>
<rect x="328.62" y="24.17" width="3.6" height="3.6" fill="#000"/>
<rect x="346.87" y="84.62" width="3.6" height="3.6" fill="#000"/>
<rect x="364.42" y="109.00" width="3.6" height="3.6" fill="#000"/>
<rect x="382.32" y="84.62" width="3.6" height="3.6" fill="#000"/>
<rect x="400.57" y="24.17" width="3.6" height="3.6" fill="#000"/>
<rect x="412.39" y="54.89" width="3.6" height="3.6" fill="#000"/>
<rect x="424.74" y="100.71" width="3.6" height="3.6" fill="#000"/>
<rect x="436.91" y="109.00" width="3.6" height="3.6" fill="#000"/>
<text x="292.40" y="108.30" font-size="6.8" fill="#1a1a1a" stroke="#1a1a1a" stroke-width="0.2" font-weight="normal" text-anchor="start" >0</text>
<text x="309.80" y="106.50" font-size="6.8" fill="#1a1a1a" stroke="#1a1a1a" stroke-width="0.2" font-weight="normal" text-anchor="start" >0.17</text>
<text x="302.30" y="59.30" font-size="6.8" fill="#1a1a1a" stroke="#1a1a1a" stroke-width="0.2" font-weight="normal" text-anchor="start" >1.11</text>
<text x="324.90" y="22.90" font-size="6.8" fill="#1a1a1a" stroke="#1a1a1a" stroke-width="0.2" font-weight="normal" text-anchor="start" >1.74</text>
<text x="331.70" y="89.60" font-size="6.8" fill="#1a1a1a" stroke="#1a1a1a" stroke-width="0.2" font-weight="normal" text-anchor="start" >0.50</text>
<text x="359.00" y="107.30" font-size="6.8" fill="#1a1a1a" stroke="#1a1a1a" stroke-width="0.2" font-weight="normal" text-anchor="start" >-0.00</text>
<text x="387.80" y="89.20" font-size="6.8" fill="#1a1a1a" stroke="#1a1a1a" stroke-width="0.2" font-weight="normal" text-anchor="start" >0.50</text>
<text x="396.80" y="22.50" font-size="6.8" fill="#1a1a1a" stroke="#1a1a1a" stroke-width="0.2" font-weight="normal" text-anchor="start" >1.74</text>
<text x="418.70" y="59.30" font-size="6.8" fill="#1a1a1a" stroke="#1a1a1a" stroke-width="0.2" font-weight="normal" text-anchor="start" >1.11</text>
<text x="426.00" y="99.90" font-size="6.8" fill="#1a1a1a" stroke="#1a1a1a" stroke-width="0.2" font-weight="normal" text-anchor="start" >0.17</text>
<text x="432.60" y="109.30" font-size="6.8" fill="#1a1a1a" stroke="#1a1a1a" stroke-width="0.2" font-weight="normal" text-anchor="start" >0.00</text>
<text x="289.00" y="22.70" font-size="8.6" fill="#111" stroke="#111" stroke-width="0.1" font-weight="bold" text-anchor="start" >n=1</text>
<text x="290.60" y="10.90" font-size="8.8" fill="#111" stroke="#111" stroke-width="0.25" font-weight="normal" text-anchor="start" >S1</text>
<text x="360.60" y="10.90" font-size="8.8" fill="#111" stroke="#111" stroke-width="0.25" font-weight="normal" text-anchor="start" >S2</text>
<text x="447.80" y="10.90" font-size="8.8" fill="#111" stroke="#111" stroke-width="0.25" font-weight="normal" text-anchor="start" >S3</text>
<line x1="311.70" y1="7.00" x2="339.60" y2="7.00" stroke="#d394f0" stroke-width="1.7"/>
<polygon points="351.00,7.00 336.60,3.30 340.10,7.00 336.60,10.70" fill="#d394f0"/>
<line x1="394.30" y1="7.00" x2="422.20" y2="7.00" stroke="#d394f0" stroke-width="1.7"/>
<polygon points="433.60,7.00 419.20,3.30 422.70,7.00 419.20,10.70" fill="#d394f0"/>
<text x="254.40" y="16.60" font-size="12.4" fill="#111" stroke="#111" stroke-width="0.4" font-weight="normal" text-anchor="start" >(c)</text>
<line x1="373.30" y1="133.30" x2="373.30" y2="241.10" stroke="#646464" stroke-width="1.1"/>
<path d="M285.20,231.10h2.2M464.00,231.10h-2.2M285.20,221.31h1.3M464.00,221.31h-1.3M285.20,211.52h2.2M464.00,211.52h-2.2M285.20,201.73h1.3M464.00,201.73h-1.3M285.20,191.94h2.2M464.00,191.94h-2.2M285.20,182.15h1.3M464.00,182.15h-1.3M285.20,172.36h2.2M464.00,172.36h-2.2M285.20,162.57h1.3M464.00,162.57h-1.3M285.20,152.78h2.2M464.00,152.78h-2.2M285.20,142.99h1.3M464.00,142.99h-1.3M285.20,133.20h2.2M464.00,133.20h-2.2M293.90,241.10v-2.2M302.85,241.10v-1.3M311.80,241.10v-2.2M320.75,241.10v-1.3M329.70,241.10v-2.2M338.65,241.10v-1.3M347.60,241.10v-2.2M356.55,241.10v-1.3M365.50,241.10v-2.2M374.45,241.10v-1.3M383.40,241.10v-2.2M392.35,241.10v-1.3M401.30,241.10v-2.2M410.25,241.10v-1.3M419.20,241.10v-2.2M428.15,241.10v-1.3M437.10,241.10v-2.2M446.05,241.10v-1.3M455.00,241.10v-2.2" stroke="#4a4a4a" stroke-width="1.0" fill="none"/>
<rect x="285.20" y="133.30" width="178.80" height="107.80" fill="none" stroke="#8e8e8e" stroke-width="1.6"/>
<text x="283.30" y="234.20" font-size="9.0" fill="#111" stroke="#111" stroke-width="0.25" font-weight="normal" text-anchor="end" >0.0</text>
<text x="283.30" y="214.62" font-size="9.0" fill="#111" stroke="#111" stroke-width="0.25" font-weight="normal" text-anchor="end" >0.4</text>
<text x="283.30" y="195.04" font-size="9.0" fill="#111" stroke="#111" stroke-width="0.25" font-weight="normal" text-anchor="end" >0.8</text>
<text x="283.30" y="175.46" font-size="9.0" fill="#111" stroke="#111" stroke-width="0.25" font-weight="normal" text-anchor="end" >1.2</text>
<text x="283.30" y="155.88" font-size="9.0" fill="#111" stroke="#111" stroke-width="0.25" font-weight="normal" text-anchor="end" >1.6</text>
<text x="283.30" y="136.30" font-size="9.0" fill="#111" stroke="#111" stroke-width="0.25" font-weight="normal" text-anchor="end" >2.0</text>
<path d="M293.90,231.10 L294.10,231.21 L294.30,231.31 L294.49,231.40 L294.69,231.50 L294.89,231.58 L295.09,231.66 L295.29,231.74 L295.49,231.81 L295.68,231.88 L295.88,231.94 L296.08,232.00 L296.28,232.05 L296.48,232.10 L296.68,232.14 L296.87,232.18 L297.07,232.21 L297.27,232.23 L297.47,232.25 L297.67,232.27 L297.87,232.28 L298.06,232.28 L298.26,232.28 L298.46,232.27 L298.66,232.26 L298.86,232.24 L299.06,232.22 L299.25,232.19 L299.45,232.16 L299.65,232.12 L299.85,232.07 L300.05,232.02 L300.25,231.96 L300.44,231.90 L300.64,231.83 L300.84,231.75 L301.04,231.67 L301.24,231.59 L301.44,231.49 L301.63,231.39 L301.83,231.29 L302.03,231.18 L302.23,231.06 L302.43,230.94 L302.62,230.81 L302.82,230.67 L303.02,230.53 L303.22,230.38 L303.42,230.23 L303.62,230.07 L303.81,229.90 L304.01,229.72 L304.21,229.54 L304.41,229.36 L304.61,229.16 L304.81,228.96 L305.00,228.76 L305.20,228.54 L305.40,228.32 L305.60,228.10 L305.80,227.86 L306.00,227.62 L306.19,227.38 L306.39,227.12 L306.59,226.86 L306.79,226.59 L306.99,226.32 L307.19,226.04 L307.38,225.75 L307.58,225.45 L307.78,225.15 L307.98,224.84 L308.18,224.52 L308.38,224.20 L308.57,223.87 L308.77,223.53 L308.97,223.18 L309.17,222.83 L309.37,222.47 L309.56,222.10 L309.76,221.73 L309.96,221.34 L310.16,220.95 L310.36,220.56 L310.56,220.15 L310.75,219.74 L310.95,219.32 L311.15,218.89 L311.35,218.45 L311.55,218.01 L311.75,217.56 L311.94,217.10 L312.14,216.63 L312.34,216.15 L312.54,215.67 L312.74,215.18 L312.94,214.68 L313.13,214.17 L313.33,213.66 L313.53,213.14 L313.73,212.61 L313.93,212.07 L314.13,211.52 L314.32,210.96 L314.52,210.40 L314.72,209.83 L314.92,209.25 L315.12,208.67 L315.32,208.08 L315.51,207.48 L315.71,206.87 L315.91,206.26 L316.11,205.65 L316.31,205.03 L316.51,204.40 L316.70,203.77 L316.90,203.14 L317.10,202.50 L317.30,201.85 L317.50,201.20 L317.69,200.55 L317.89,199.90 L318.09,199.24 L318.29,198.58 L318.49,197.91 L318.69,197.25 L318.88,196.58 L319.08,195.91 L319.28,195.24 L319.48,194.57 L319.68,193.89 L319.88,193.22 L320.07,192.54 L320.27,191.87 L320.47,191.19 L320.67,190.51 L320.87,189.84 L321.07,189.16 L321.26,188.49 L321.46,187.82 L321.66,187.15 L321.86,186.48 L322.06,185.81 L322.26,185.15 L322.45,184.48 L322.65,183.83 L322.85,183.17 L323.05,182.52 L323.25,181.87 L323.45,181.22 L323.64,180.58 L323.84,179.94 L324.04,179.31 L324.24,178.68 L324.44,178.05 L324.64,177.44 L324.83,176.82 L325.03,176.22 L325.23,175.61 L325.43,175.02 L325.63,174.43 L325.82,173.85 L326.02,173.28 L326.22,172.71 L326.42,172.15 L326.62,171.60 L326.82,171.05 L327.01,170.52 L327.21,169.99 L327.41,169.47 L327.61,168.97 L327.81,168.47 L328.01,167.98 L328.20,167.50 L328.40,167.03 L328.60,166.57 L328.80,166.12 L329.00,165.68 L329.20,165.25 L329.39,164.84 L329.59,164.44 L329.79,164.04 L329.99,163.66 L330.19,163.30 L330.39,162.94 L330.58,162.60 L330.78,162.27 L330.98,161.96 L331.18,161.66 L331.38,161.37 L331.58,161.09 L331.77,160.84 L331.97,160.59 L332.17,160.36 L332.37,160.15 L332.57,159.95 L332.76,159.77 L332.96,159.60 L333.16,159.45 L333.36,159.31 L333.56,159.20 L333.76,159.09 L333.95,159.00 L334.15,158.93 L334.35,158.88 L334.55,158.84 L334.75,158.81 L334.95,158.80 L335.14,158.80 L335.34,158.82 L335.54,158.86 L335.74,158.91 L335.94,158.97 L336.14,159.05 L336.33,159.14 L336.53,159.25 L336.73,159.37 L336.93,159.50 L337.13,159.65 L337.33,159.82 L337.52,159.99 L337.72,160.18 L337.92,160.39 L338.12,160.60 L338.32,160.84 L338.52,161.08 L338.71,161.34 L338.91,161.61 L339.11,161.89 L339.31,162.18 L339.51,162.49 L339.71,162.81 L339.90,163.15 L340.10,163.49 L340.30,163.85 L340.50,164.22 L340.70,164.60 L340.89,165.00 L341.09,165.40 L341.29,165.82 L341.49,166.25 L341.69,166.69 L341.89,167.14 L342.08,167.60 L342.28,168.08 L342.48,168.56 L342.68,169.06 L342.88,169.56 L343.08,170.08 L343.27,170.61 L343.47,171.15 L343.67,171.70 L343.87,172.25 L344.07,172.82 L344.27,173.40 L344.46,173.99 L344.66,174.59 L344.86,175.20 L345.06,175.82 L345.26,176.45 L345.46,177.08 L345.65,177.73 L345.85,178.39 L346.05,179.05 L346.25,179.72 L346.45,180.41 L346.65,181.10 L346.84,181.80 L347.04,182.51 L347.24,183.22 L347.44,183.94 L347.64,184.67 L347.84,185.41 L348.03,186.15 L348.23,186.90 L348.43,187.65 L348.63,188.41 L348.83,189.17 L349.02,189.94 L349.22,190.71 L349.42,191.48 L349.62,192.26 L349.82,193.04 L350.02,193.82 L350.21,194.60 L350.41,195.38 L350.61,196.16 L350.81,196.95 L351.01,197.73 L351.21,198.52 L351.40,199.30 L351.60,200.08 L351.80,200.86 L352.00,201.64 L352.20,202.42 L352.40,203.19 L352.59,203.96 L352.79,204.73 L352.99,205.49 L353.19,206.25 L353.39,207.00 L353.59,207.75 L353.78,208.49 L353.98,209.22 L354.18,209.95 L354.38,210.68 L354.58,211.39 L354.78,212.10 L354.97,212.80 L355.17,213.49 L355.37,214.17 L355.57,214.85 L355.77,215.51 L355.96,216.16 L356.16,216.81 L356.36,217.44 L356.56,218.06 L356.76,218.67 L356.96,219.26 L357.15,219.85 L357.35,220.42 L357.55,220.98 L357.75,221.52 L357.95,222.05 L358.15,222.57 L358.34,223.07 L358.54,223.56 L358.74,224.03 L358.94,224.48 L359.14,224.92 L359.34,225.34 L359.53,225.74 L359.73,226.13 L359.93,226.50 L360.13,226.85 L360.33,227.18 L360.53,227.50 L360.72,227.79 L360.92,228.08 L361.12,228.34 L361.32,228.59 L361.52,228.83 L361.72,229.05 L361.91,229.26 L362.11,229.45 L362.31,229.64 L362.51,229.80 L362.71,229.96 L362.91,230.10 L363.10,230.23 L363.30,230.35 L363.50,230.46 L363.70,230.56 L363.90,230.65 L364.09,230.73 L364.29,230.80 L364.49,230.86 L364.69,230.92 L364.89,230.96 L365.09,231.00 L365.28,231.03 L365.48,231.05 L365.68,231.07 L365.88,231.08 L366.08,231.09 L366.28,231.09 L366.47,231.09 L366.67,231.08 L366.87,231.07 L367.07,231.05 L367.27,231.04 L367.47,231.02 L367.66,230.99 L367.86,230.97 L368.06,230.94 L368.26,230.92 L368.46,230.89 L368.66,230.87 L368.85,230.84 L369.05,230.81 L369.25,230.79 L369.45,230.77 L369.65,230.75 L369.85,230.73 L370.04,230.71 L370.24,230.70 L370.44,230.69 L370.64,230.69 L370.84,230.69 L371.04,230.69 L371.23,230.70 L371.43,230.72 L371.63,230.74 L371.83,230.77 L372.03,230.80 L372.22,230.85 L372.42,230.90 L372.62,230.96 L372.82,231.02 L373.02,231.10 L373.02,231.10 L373.22,231.18 L373.41,231.25 L373.61,231.32 L373.81,231.39 L374.00,231.45 L374.20,231.50 L374.40,231.55 L374.60,231.60 L374.79,231.64 L374.99,231.67 L375.19,231.70 L375.39,231.73 L375.58,231.75 L375.78,231.76 L375.98,231.78 L376.18,231.78 L376.37,231.78 L376.57,231.78 L376.77,231.77 L376.97,231.75 L377.16,231.73 L377.36,231.70 L377.56,231.67 L377.76,231.64 L377.95,231.59 L378.15,231.55 L378.35,231.49 L378.55,231.44 L378.74,231.37 L378.94,231.30 L379.14,231.23 L379.33,231.15 L379.53,231.06 L379.73,230.97 L379.93,230.87 L380.12,230.77 L380.32,230.66 L380.52,230.55 L380.72,230.43 L380.91,230.30 L381.11,230.17 L381.31,230.03 L381.51,229.89 L381.70,229.74 L381.90,229.58 L382.10,229.42 L382.30,229.25 L382.49,229.08 L382.69,228.90 L382.89,228.71 L383.09,228.52 L383.28,228.32 L383.48,228.11 L383.68,227.90 L383.87,227.69 L384.07,227.46 L384.27,227.23 L384.47,227.00 L384.66,226.75 L384.86,226.50 L385.06,226.25 L385.26,225.99 L385.45,225.72 L385.65,225.44 L385.85,225.16 L386.05,224.87 L386.24,224.58 L386.44,224.28 L386.64,223.97 L386.84,223.65 L387.03,223.33 L387.23,223.00 L387.43,222.66 L387.63,222.32 L387.82,221.97 L388.02,221.62 L388.22,221.25 L388.41,220.88 L388.61,220.51 L388.81,220.12 L389.01,219.73 L389.20,219.33 L389.40,218.93 L389.60,218.51 L389.80,218.09 L389.99,217.66 L390.19,217.23 L390.39,216.79 L390.59,216.34 L390.78,215.88 L390.98,215.42 L391.18,214.95 L391.38,214.47 L391.57,213.98 L391.77,213.49 L391.97,212.99 L392.17,212.48 L392.36,211.96 L392.56,211.44 L392.76,210.91 L392.95,210.37 L393.15,209.82 L393.35,209.27 L393.55,208.71 L393.74,208.14 L393.94,207.57 L394.14,206.99 L394.34,206.41 L394.53,205.82 L394.73,205.22 L394.93,204.62 L395.13,204.02 L395.32,203.41 L395.52,202.79 L395.72,202.17 L395.92,201.55 L396.11,200.93 L396.31,200.30 L396.51,199.66 L396.71,199.03 L396.90,198.39 L397.10,197.75 L397.30,197.11 L397.49,196.46 L397.69,195.82 L397.89,195.17 L398.09,194.52 L398.28,193.87 L398.48,193.21 L398.68,192.56 L398.88,191.91 L399.07,191.26 L399.27,190.60 L399.47,189.95 L399.67,189.30 L399.86,188.65 L400.06,188.00 L400.26,187.35 L400.46,186.70 L400.65,186.05 L400.85,185.41 L401.05,184.77 L401.25,184.13 L401.44,183.49 L401.64,182.85 L401.84,182.22 L402.03,181.59 L402.23,180.97 L402.43,180.35 L402.63,179.73 L402.82,179.12 L403.02,178.51 L403.22,177.91 L403.42,177.31 L403.61,176.72 L403.81,176.13 L404.01,175.54 L404.21,174.97 L404.40,174.40 L404.60,173.83 L404.80,173.28 L405.00,172.72 L405.19,172.18 L405.39,171.64 L405.59,171.11 L405.79,170.59 L405.98,170.08 L406.18,169.57 L406.38,169.08 L406.57,168.59 L406.77,168.11 L406.97,167.64 L407.17,167.17 L407.36,166.72 L407.56,166.28 L407.76,165.85 L407.96,165.43 L408.15,165.02 L408.35,164.61 L408.55,164.23 L408.75,163.85 L408.94,163.48 L409.14,163.12 L409.34,162.78 L409.54,162.45 L409.73,162.13 L409.93,161.82 L410.13,161.53 L410.33,161.25 L410.52,160.98 L410.72,160.73 L410.92,160.49 L411.11,160.26 L411.31,160.05 L411.51,159.85 L411.71,159.67 L411.90,159.50 L412.10,159.34 L412.30,159.21 L412.50,159.08 L412.69,158.98 L412.89,158.89 L413.09,158.81 L413.29,158.75 L413.48,158.71 L413.68,158.67 L413.88,158.66 L414.08,158.66 L414.27,158.67 L414.47,158.70 L414.67,158.75 L414.87,158.80 L415.06,158.88 L415.26,158.96 L415.46,159.07 L415.65,159.18 L415.85,159.31 L416.05,159.45 L416.25,159.61 L416.44,159.78 L416.64,159.96 L416.84,160.16 L417.04,160.37 L417.23,160.59 L417.43,160.83 L417.63,161.08 L417.83,161.34 L418.02,161.61 L418.22,161.90 L418.42,162.20 L418.62,162.51 L418.81,162.84 L419.01,163.17 L419.21,163.52 L419.41,163.88 L419.60,164.25 L419.80,164.64 L420.00,165.03 L420.20,165.44 L420.39,165.86 L420.59,166.29 L420.79,166.73 L420.98,167.18 L421.18,167.65 L421.38,168.12 L421.58,168.60 L421.77,169.10 L421.97,169.61 L422.17,170.12 L422.37,170.65 L422.56,171.19 L422.76,171.73 L422.96,172.29 L423.16,172.86 L423.35,173.44 L423.55,174.02 L423.75,174.62 L423.95,175.22 L424.14,175.84 L424.34,176.46 L424.54,177.10 L424.74,177.74 L424.93,178.39 L425.13,179.05 L425.33,179.72 L425.52,180.40 L425.72,181.08 L425.92,181.78 L426.12,182.48 L426.31,183.19 L426.51,183.90 L426.71,184.63 L426.91,185.35 L427.10,186.09 L427.30,186.83 L427.50,187.57 L427.70,188.32 L427.89,189.08 L428.09,189.83 L428.29,190.59 L428.49,191.36 L428.68,192.12 L428.88,192.89 L429.08,193.66 L429.28,194.44 L429.47,195.21 L429.67,195.98 L429.87,196.76 L430.06,197.53 L430.26,198.31 L430.46,199.08 L430.66,199.86 L430.85,200.63 L431.05,201.40 L431.25,202.16 L431.45,202.93 L431.64,203.69 L431.84,204.45 L432.04,205.20 L432.24,205.95 L432.43,206.70 L432.63,207.44 L432.83,208.18 L433.03,208.91 L433.22,209.63 L433.42,210.35 L433.62,211.06 L433.82,211.77 L434.01,212.46 L434.21,213.15 L434.41,213.83 L434.60,214.50 L434.80,215.16 L435.00,215.82 L435.20,216.46 L435.39,217.09 L435.59,217.72 L435.79,218.33 L435.99,218.93 L436.18,219.52 L436.38,220.09 L436.58,220.66 L436.78,221.21 L436.97,221.75 L437.17,222.27 L437.37,222.78 L437.57,223.28 L437.76,223.76 L437.96,224.22 L438.16,224.68 L438.36,225.11 L438.55,225.53 L438.75,225.93 L438.95,226.32 L439.14,226.68 L439.34,227.03 L439.54,227.37 L439.74,227.69 L439.93,227.99 L440.13,228.28 L440.33,228.55 L440.53,228.81 L440.72,229.05 L440.92,229.28 L441.12,229.49 L441.32,229.70 L441.51,229.89 L441.71,230.06 L441.91,230.23 L442.11,230.38 L442.30,230.52 L442.50,230.66 L442.70,230.78 L442.90,230.89 L443.09,230.99 L443.29,231.08 L443.49,231.16 L443.68,231.23 L443.88,231.30 L444.08,231.35 L444.28,231.40 L444.47,231.44 L444.67,231.48 L444.87,231.50 L445.07,231.52 L445.26,231.54 L445.46,231.55 L445.66,231.55 L445.86,231.55 L446.05,231.55 L446.25,231.54 L446.45,231.53 L446.65,231.51 L446.84,231.49 L447.04,231.47 L447.24,231.45 L447.44,231.42 L447.63,231.39 L447.83,231.36 L448.03,231.33 L448.22,231.30 L448.42,231.27 L448.62,231.24 L448.82,231.22 L449.01,231.19 L449.21,231.16 L449.41,231.14 L449.61,231.11 L449.80,231.09 L450.00,231.07 L450.20,231.06 L450.40,231.05 L450.59,231.04 L450.79,231.04 L450.99,231.04 L451.19,231.05 L451.38,231.06 L451.58,231.08 L451.78,231.10" fill="none" stroke="#e00000" stroke-width="1.3" stroke-linejoin="round"/>
<circle cx="293.90" cy="231.10" r="2.05" fill="#e00000"/>
<circle cx="313.95" cy="212.01" r="2.05" fill="#e00000"/>
<circle cx="332.92" cy="159.63" r="2.05" fill="#e00000"/>
<circle cx="346.53" cy="180.68" r="2.05" fill="#e00000"/>
<circle cx="359.77" cy="226.20" r="2.05" fill="#e00000"/>
<circle cx="373.02" cy="231.10" r="2.05" fill="#e00000"/>
<circle cx="392.53" cy="211.52" r="2.05" fill="#e00000"/>
<circle cx="412.40" cy="159.14" r="2.05" fill="#e00000"/>
<circle cx="425.46" cy="180.19" r="2.05" fill="#e00000"/>
<circle cx="438.89" cy="226.20" r="2.05" fill="#e00000"/>
<circle cx="451.78" cy="231.10" r="2.05" fill="#e00000"/>
<text x="292.40" y="227.10" font-size="7.1" fill="#e02a2a" stroke="#e02a2a" stroke-width="0.05" font-weight="normal" text-anchor="start" >0</text>
<text x="296.40" y="213.80" font-size="7.1" fill="#e02a2a" stroke="#e02a2a" stroke-width="0.05" font-weight="normal" text-anchor="start" >0.39</text>
<text x="327.90" y="155.60" font-size="7.1" fill="#e02a2a" stroke="#e02a2a" stroke-width="0.05" font-weight="normal" text-anchor="start" >1.46</text>
<text x="348.40" y="179.40" font-size="7.1" fill="#e02a2a" stroke="#e02a2a" stroke-width="0.05" font-weight="normal" text-anchor="start" >1.03</text>
<text x="342.60" y="225.20" font-size="7.1" fill="#e02a2a" stroke="#e02a2a" stroke-width="0.05" font-weight="normal" text-anchor="start" >0.10</text>
<text x="366.80" y="227.00" font-size="7.1" fill="#e02a2a" stroke="#e02a2a" stroke-width="0.05" font-weight="normal" text-anchor="start" >0.00</text>
<text x="396.20" y="214.40" font-size="7.1" fill="#e02a2a" stroke="#e02a2a" stroke-width="0.05" font-weight="normal" text-anchor="start" >0.40</text>
<text x="408.30" y="156.40" font-size="7.1" fill="#e02a2a" stroke="#e02a2a" stroke-width="0.05" font-weight="normal" text-anchor="start" >1.47</text>
<text x="429.70" y="182.70" font-size="7.1" fill="#e02a2a" stroke="#e02a2a" stroke-width="0.05" font-weight="normal" text-anchor="start" >1.04</text>
<text x="422.00" y="229.60" font-size="7.1" fill="#e02a2a" stroke="#e02a2a" stroke-width="0.05" font-weight="normal" text-anchor="start" >0.10</text>
<text x="447.50" y="228.40" font-size="7.1" fill="#e02a2a" stroke="#e02a2a" stroke-width="0.05" font-weight="normal" text-anchor="start" >0.00</text>
<text x="291.50" y="143.00" font-size="8.6" fill="#111" stroke="#111" stroke-width="0.1" font-weight="bold" text-anchor="start" >n=2</text>
<text x="291.00" y="130.30" font-size="8.8" fill="#111" stroke="#111" stroke-width="0.25" font-weight="normal" text-anchor="start" >S1</text>
<text x="367.80" y="130.30" font-size="8.8" fill="#111" stroke="#111" stroke-width="0.25" font-weight="normal" text-anchor="start" >S2</text>
<text x="448.00" y="130.30" font-size="8.8" fill="#111" stroke="#111" stroke-width="0.25" font-weight="normal" text-anchor="start" >S3</text>
<line x1="311.70" y1="127.40" x2="339.60" y2="127.40" stroke="#d394f0" stroke-width="1.7"/>
<polygon points="351.00,127.40 336.60,123.70 340.10,127.40 336.60,131.10" fill="#d394f0"/>
<line x1="394.30" y1="127.40" x2="422.20" y2="127.40" stroke="#d394f0" stroke-width="1.7"/>
<polygon points="433.60,127.40 419.20,123.70 422.70,127.40 419.20,131.10" fill="#d394f0"/>
<text x="253.40" y="144.00" font-size="12.4" fill="#111" stroke="#111" stroke-width="0.4" font-weight="normal" text-anchor="start" >(d)</text>
<text transform="translate(262.5,72.6) rotate(-90)" font-size="8.8" fill="#111" stroke="#111" stroke-width="0.25" text-anchor="middle">Energy(eV)</text>
<text transform="translate(262.5,184.9) rotate(-90)" font-size="8.8" fill="#111" stroke="#111" stroke-width="0.25" text-anchor="middle">Energy(eV)</text>
<text x="293.90" y="250.40" font-size="8.4" fill="#111" stroke="#111" stroke-width="0.25" font-weight="normal" text-anchor="middle" >0</text>
<text x="311.80" y="250.40" font-size="8.4" fill="#111" stroke="#111" stroke-width="0.25" font-weight="normal" text-anchor="middle" >1</text>
<text x="329.70" y="250.40" font-size="8.4" fill="#111" stroke="#111" stroke-width="0.25" font-weight="normal" text-anchor="middle" >2</text>
<text x="347.60" y="250.40" font-size="8.4" fill="#111" stroke="#111" stroke-width="0.25" font-weight="normal" text-anchor="middle" >3</text>
<text x="365.50" y="250.40" font-size="8.4" fill="#111" stroke="#111" stroke-width="0.25" font-weight="normal" text-anchor="middle" >4</text>
<text x="383.40" y="250.40" font-size="8.4" fill="#111" stroke="#111" stroke-width="0.25" font-weight="normal" text-anchor="middle" >5</text>
<text x="401.30" y="250.40" font-size="8.4" fill="#111" stroke="#111" stroke-width="0.25" font-weight="normal" text-anchor="middle" >6</text>
<text x="419.20" y="250.40" font-size="8.4" fill="#111" stroke="#111" stroke-width="0.25" font-weight="normal" text-anchor="middle" >7</text>
<text x="437.10" y="250.40" font-size="8.4" fill="#111" stroke="#111" stroke-width="0.25" font-weight="normal" text-anchor="middle" >8</text>
<text x="455.00" y="250.40" font-size="8.4" fill="#111" stroke="#111" stroke-width="0.25" font-weight="normal" text-anchor="middle" >9</text>
<text x="383.20" y="261.80" font-size="9.0" fill="#111" stroke="#111" stroke-width="0.25" font-weight="normal" text-anchor="middle" >Distance(Å)</text>
</svg></body></html>
